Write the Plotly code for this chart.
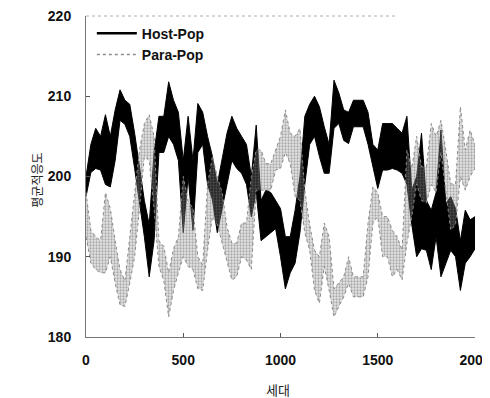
import plotly.graph_objects as go

# Generation sample points (every 25 generations)
gens = list(range(0, 2001, 25))

# Host-Pop band (low / high edge of the noisy trace)
host_lo = [197.5, 200.5, 201.0, 200.8, 199.0, 198.7, 202.0, 207.0, 206.5, 205.0,
           201.0, 197.0, 192.5, 187.5, 192.0, 203.0, 203.0, 205.0, 204.0, 202.0,
           193.0, 200.0, 193.3, 203.0, 204.0, 199.0, 197.1, 193.0, 196.0, 199.0,
           202.0, 201.0, 200.4, 199.0, 195.0, 198.0, 192.0, 192.5, 193.0, 193.5,
           190.0, 186.0, 188.0, 189.2, 193.0, 199.0, 204.0, 205.0, 202.5, 200.4,
           200.4, 206.0, 206.6, 204.5, 204.1, 206.2, 206.2, 206.2, 204.0, 201.2,
           198.5, 200.8, 200.8, 201.0, 200.8, 200.4, 199.0, 194.0, 190.0, 191.0,
           190.8, 188.4, 192.5, 187.5, 189.2, 190.8, 190.0, 185.8, 189.2, 190.0,
           191.0]
host_hi = [200.0, 204.0, 206.0, 205.0, 207.7, 205.0, 208.3, 210.8, 209.5, 209.0,
           205.4, 201.0, 197.0, 194.0, 203.0, 207.5, 207.5, 211.8, 209.5, 208.0,
           202.0, 207.5, 202.0, 209.1, 208.0, 205.0, 202.5, 199.0, 202.0, 205.4,
           207.5, 206.0, 205.0, 204.0, 200.0, 206.4, 197.0, 198.3, 198.0, 197.0,
           196.0, 192.5, 192.5, 195.8, 200.0, 207.5, 209.0, 210.0, 208.7, 206.2,
           204.0, 212.0, 210.4, 208.3, 208.0, 209.5, 209.5, 209.5, 208.0, 204.0,
           203.3, 206.6, 206.6, 206.6, 206.0, 205.4, 207.5, 198.3, 200.0, 205.4,
           197.0, 195.8, 198.0, 205.8, 196.6, 197.5, 196.0, 192.0, 195.8, 194.6,
           195.0]

# Para-Pop band
para_lo = [192.5, 189.2, 188.4, 188.0, 188.0, 190.0, 186.7, 184.0, 183.8, 186.7,
           190.0, 196.0, 202.5, 202.0, 196.0, 188.8, 187.0, 182.5, 185.8, 188.0,
           190.0, 188.8, 188.4, 186.0, 185.8, 190.8, 195.0, 194.0, 191.7, 189.6,
           187.1, 187.5, 190.0, 189.6, 188.4, 198.3, 198.3, 198.3, 198.3, 200.8,
           201.0, 203.0, 201.6, 197.5, 197.0, 193.0, 190.8, 185.8, 184.2, 188.8,
           185.8, 182.5, 183.8, 185.0, 186.7, 185.0, 185.0, 185.0, 187.5, 194.2,
           195.0, 190.0, 190.0, 187.5, 188.4, 187.1, 191.7, 195.0, 199.1, 197.0,
           196.7, 199.0, 198.0, 203.0, 198.3, 193.3, 194.0, 200.0, 198.3, 200.0,
           201.0]
para_hi = [198.0, 193.3, 192.5, 192.0, 198.0, 196.0, 192.0, 188.4, 187.0, 192.5,
           197.5, 203.3, 206.6, 207.7, 205.0, 192.0, 191.3, 188.0, 191.0, 192.5,
           200.0, 197.0, 196.0, 190.0, 189.0, 199.0, 202.5, 200.0, 198.0, 193.7,
           191.7, 191.7, 194.2, 194.2, 200.0, 203.3, 203.3, 201.6, 201.6, 203.3,
           205.0, 208.3, 205.4, 205.0, 206.0, 198.3, 194.0, 190.8, 190.0, 194.2,
           192.5, 186.0, 186.7, 187.5, 190.0, 187.5, 187.5, 187.5, 194.2, 198.7,
           198.0, 195.0, 195.0, 193.3, 192.5, 190.8, 203.3, 201.0, 205.0, 201.2,
           201.2, 206.6, 205.0, 207.0, 203.3, 199.1, 199.0, 208.7, 203.3, 205.8,
           204.0]

x_ticks = [0, 500, 1000, 1500, 2000]
y_ticks = [180, 190, 200, 210, 220]

band_x = gens + gens[::-1]
host_y = host_hi + host_lo[::-1]
para_y = para_hi + para_lo[::-1]

fig = go.Figure()
# Host band (solid black)
fig.add_trace(go.Scatter(x=band_x, y=host_y, mode="lines", fill="toself",
                         fillcolor="#000000", line=dict(color="#000000", width=1),
                         showlegend=False, hoverinfo="skip"))
# Para band (grey stipple)
fig.add_trace(go.Scatter(x=band_x, y=para_y, mode="lines", fill="toself",
                         fillcolor="rgba(150,150,150,0.25)",
                         fillpattern=dict(shape=".", fgcolor="#6e6e6e", size=3,
                                          solidity=0.45, fillmode="overlay"),
                         line=dict(color="#8a8a8a", width=1, dash="dot"),
                         showlegend=False, hoverinfo="skip"))
# Legend entries
fig.add_trace(go.Scatter(x=[None], y=[None], mode="lines", name="Host-Pop",
                         line=dict(color="#000000", width=2.5)))
fig.add_trace(go.Scatter(x=[None], y=[None], mode="lines", name="Para-Pop",
                         line=dict(color="#8c8c8c", width=1.5, dash="dot")))

fig.add_shape(type="line", xref="paper", yref="paper", x0=0, x1=0.8, y0=1, y1=1,
              line=dict(color="#b0b0b0", width=1, dash="dot"))

fig.add_annotation(text="평균적응도", xref="paper", yref="paper",
                   x=-0.126, y=0.49, textangle=-90, showarrow=False,
                   xanchor="center", yanchor="middle",
                   font=dict(family="Noto Sans CJK KR", size=12, color="#222"))
fig.add_annotation(text="세대", xref="paper", yref="paper",
                   x=0.494, y=-0.162, showarrow=False,
                   xanchor="center", yanchor="middle",
                   font=dict(family="Noto Sans CJK KR", size=13, color="#222"))

# The page body adds an 8px offset, so the figure is sized/margined to compensate
fig.update_layout(
    width=482, height=390,
    margin=dict(l=78, r=15, t=8, b=61, autoexpand=False),
    paper_bgcolor="white", plot_bgcolor="white",
    font=dict(family="Liberation Sans, Arial, sans-serif", color="#111111"),
    showlegend=True,
    legend=dict(x=0.015, y=0.995, xanchor="left", yanchor="top",
                bgcolor="rgba(0,0,0,0)", font=dict(size=14, weight="bold"),
                tracegroupgap=0, itemwidth=40),
    xaxis=dict(range=[0, 2000], tickvals=x_ticks, ticktext=[str(v) for v in x_ticks],
               ticks="inside", ticklen=4, tickcolor="#555", showgrid=False,
               zeroline=False, showline=True, linecolor="#777", linewidth=1,
               automargin=False, ticklabelstandoff=10, ticklabeloverflow="allow",
               tickfont=dict(size=14, weight="bold")),
    yaxis=dict(range=[180, 220], tickvals=y_ticks, ticktext=[str(v) for v in y_ticks],
               ticks="inside", ticklen=4, tickcolor="#555", showgrid=False,
               zeroline=False, showline=True, linecolor="#777", linewidth=1,
               automargin=False, ticklabelstandoff=11, ticklabeloverflow="allow",
               tickfont=dict(size=14, weight="bold")),
)

fig.write_html("out.html")
